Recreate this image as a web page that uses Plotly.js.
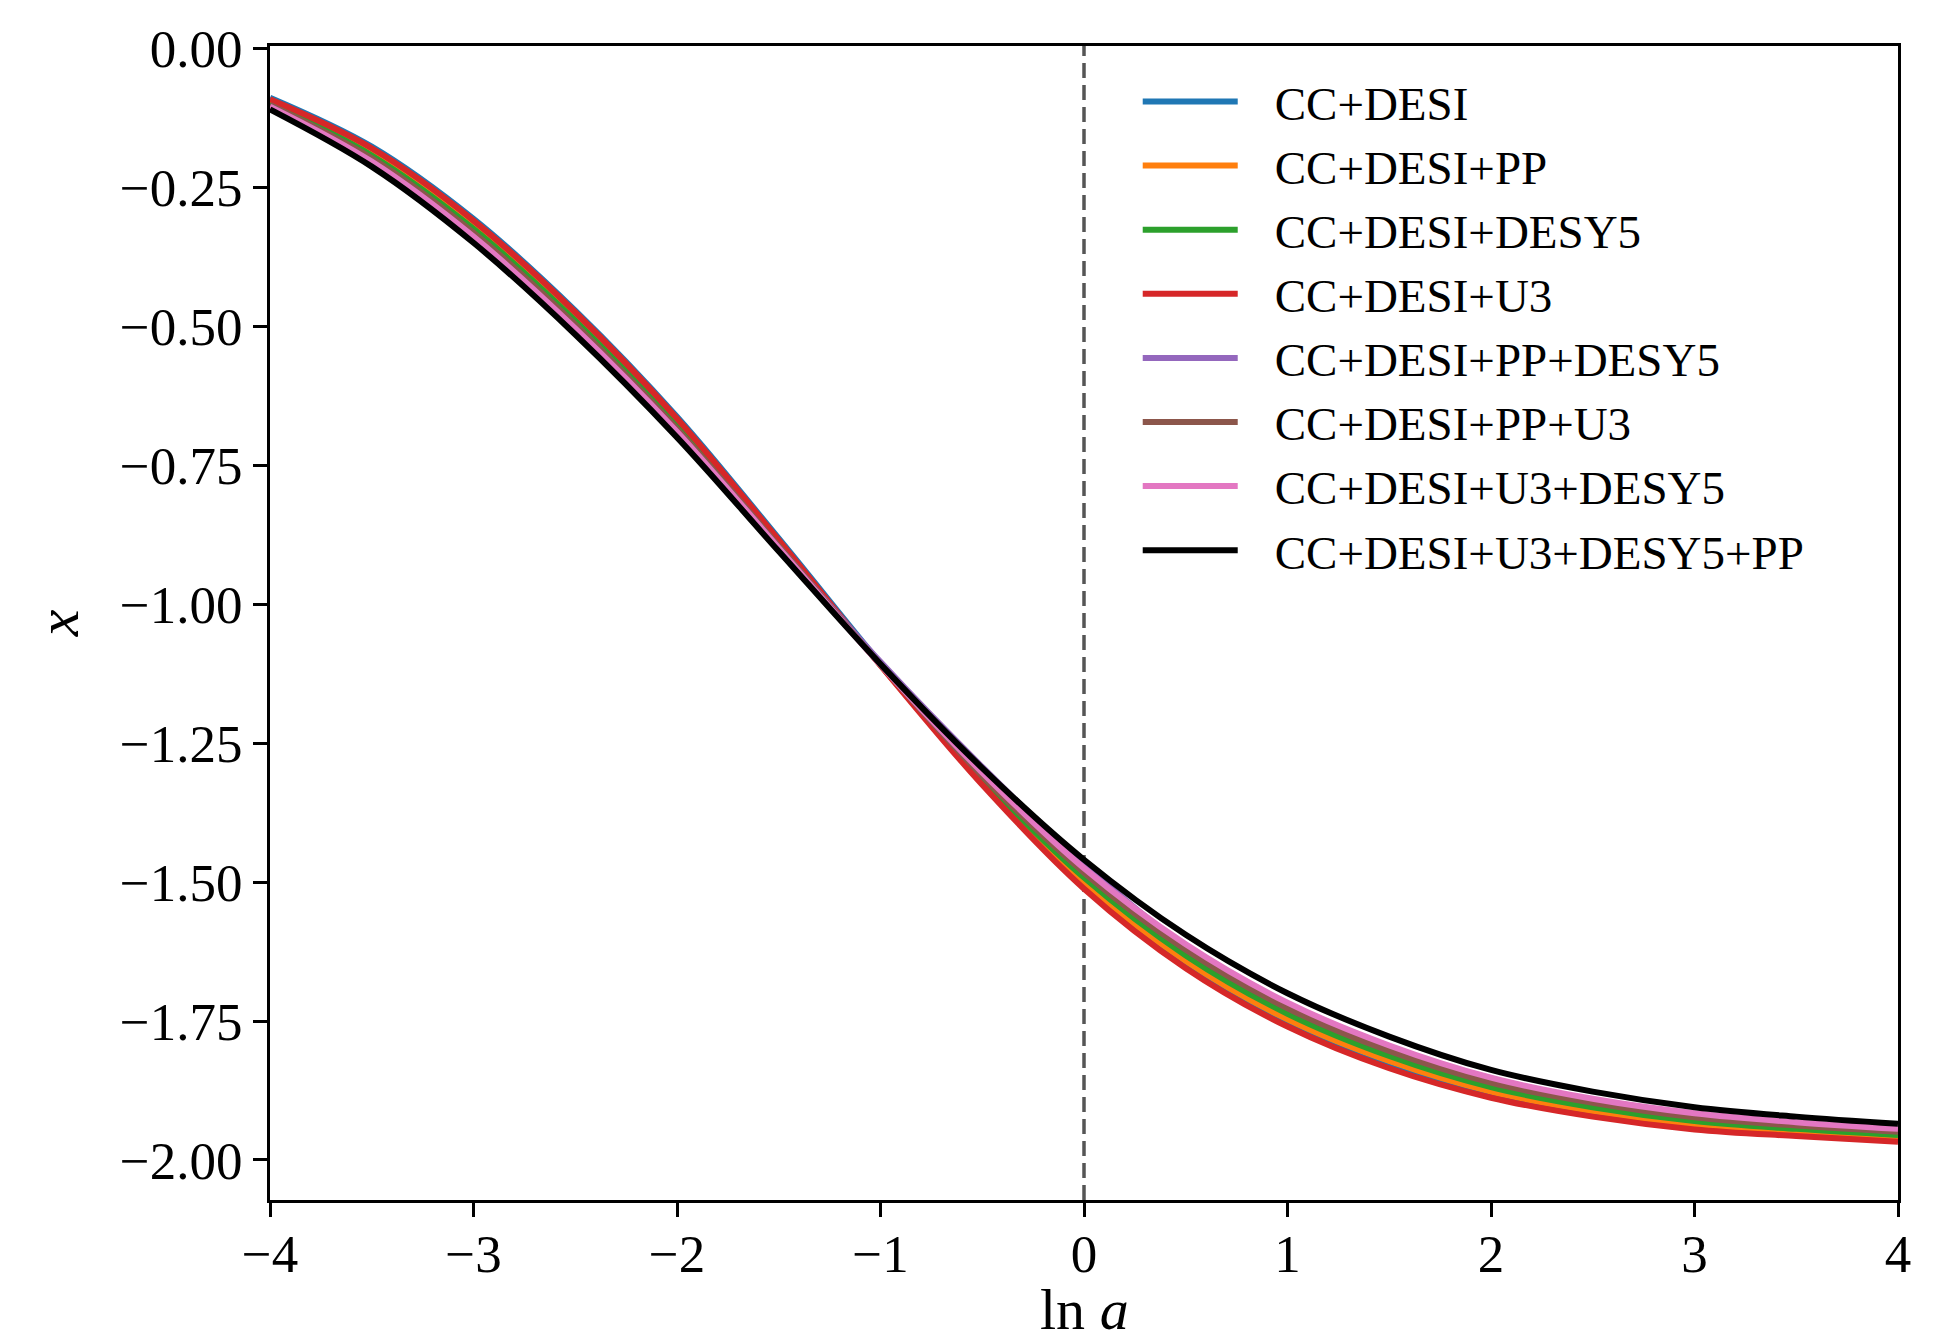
<!DOCTYPE html>
<html>
<head>
<meta charset="utf-8">
<script src="https://cdn.plot.ly/plotly-3.0.1.min.js"></script>
<style>
  html, body { margin: 0; padding: 0; background: #ffffff; }
  #chart { width: 1941px; height: 1342px; }
</style>
</head>
<body>
<div id="chart"></div>
<script>
// ln a sampling grid
const lnA = [-4, -3.5, -3, -2.5, -2, -1.5, -1, -0.5, 0, 0.5, 1, 1.5, 2, 2.5, 3, 3.5, 4];

// x(ln a) for each dataset combination
const xCC_DESI = [-0.089, -0.177, -0.307, -0.472, -0.663, -0.882, -1.107, -1.322, -1.509, -1.652, -1.757, -1.832, -1.885, -1.919, -1.942, -1.954, -1.964];
const xCC_DESI_PP = [-0.096, -0.187, -0.319, -0.484, -0.673, -0.889, -1.110, -1.318, -1.501, -1.642, -1.747, -1.822, -1.877, -1.912, -1.936, -1.949, -1.960];
const xCC_DESI_DESY5 = [-0.099, -0.193, -0.325, -0.490, -0.679, -0.893, -1.109, -1.314, -1.492, -1.632, -1.737, -1.813, -1.869, -1.905, -1.930, -1.944, -1.955];
const xCC_DESI_U3 = [-0.092, -0.180, -0.310, -0.475, -0.666, -0.885, -1.110, -1.325, -1.512, -1.655, -1.760, -1.835, -1.888, -1.922, -1.945, -1.957, -1.967];
const xCC_DESI_PP_DESY5 = [-0.103, -0.200, -0.334, -0.499, -0.687, -0.897, -1.104, -1.293, -1.468, -1.617, -1.724, -1.801, -1.858, -1.895, -1.921, -1.936, -1.948];
const xCC_DESI_PP_U3 = [-0.102, -0.198, -0.332, -0.497, -0.685, -0.896, -1.109, -1.309, -1.483, -1.622, -1.727, -1.804, -1.861, -1.897, -1.923, -1.938, -1.949];
const xCC_DESI_U3_DESY5 = [-0.105, -0.204, -0.339, -0.504, -0.690, -0.899, -1.109, -1.303, -1.475, -1.612, -1.717, -1.794, -1.852, -1.890, -1.916, -1.932, -1.944];
const xCC_DESI_U3_DESY5_PP = [-0.110, -0.213, -0.350, -0.515, -0.700, -0.905, -1.108, -1.295, -1.460, -1.595, -1.700, -1.778, -1.838, -1.877, -1.905, -1.922, -1.935];

const seriesNames = [
  'CC+DESI', 'CC+DESI+PP', 'CC+DESI+DESY5', 'CC+DESI+U3',
  'CC+DESI+PP+DESY5', 'CC+DESI+PP+U3', 'CC+DESI+U3+DESY5', 'CC+DESI+U3+DESY5+PP'
];
const seriesValues = [
  xCC_DESI, xCC_DESI_PP, xCC_DESI_DESY5, xCC_DESI_U3,
  xCC_DESI_PP_DESY5, xCC_DESI_PP_U3, xCC_DESI_U3_DESY5, xCC_DESI_U3_DESY5_PP
];
const seriesColors = ['#1f77b4', '#ff7f0e', '#2ca02c', '#d62728', '#9467bd', '#8c564b', '#e377c2', '#000000'];

// axis ticks
const xTicks = [-4, -3, -2, -1, 0, 1, 2, 3, 4];
const yTicks = [0, -0.25, -0.5, -0.75, -1, -1.25, -1.5, -1.75, -2];

const FONT = '"Liberation Serif", "DejaVu Serif", serif';

// legend handle geometry (px, inside each legend entry)
const HANDLE_LEN = 95;
const ITEM_WIDTH = 127;

const traces = seriesNames.map((name, i) => ({
  type: 'scatter',
  mode: 'lines',
  name: name,
  x: lnA,
  y: seriesValues[i],
  line: { color: seriesColors[i], width: 6, shape: 'spline', smoothing: 1 }
}));

const layout = {
  width: 1941,
  height: 1342,
  margin: { l: 270, r: 43, t: 46, b: 142 },
  paper_bgcolor: '#ffffff',
  plot_bgcolor: '#ffffff',
  font: { family: FONT, color: '#000000' },
  showlegend: true,
  legend: {
    x: 0.533, xanchor: 'left',
    y: 0.984, yanchor: 'top',
    bgcolor: 'rgba(0,0,0,0)',
    borderwidth: 0,
    font: { family: FONT, size: 47, color: '#000000' },
    itemwidth: ITEM_WIDTH,
    tracegroupgap: 0
  },
  xaxis: {
    range: [-4, 4],
    tickmode: 'array',
    tickvals: xTicks,
    ticks: 'outside', ticklen: 14, tickwidth: 3, tickcolor: '#000000',
    ticklabelstandoff: -9,
    showline: true, linewidth: 3, linecolor: '#000000', mirror: true,
    showgrid: false, zeroline: false,
    tickfont: { family: FONT, size: 53, color: '#000000' }
  },
  yaxis: {
    range: [-2.072, 0.004],
    tickmode: 'array',
    tickvals: yTicks,
    tickformat: '.2f',
    ticks: 'outside', ticklen: 14, tickwidth: 3, tickcolor: '#000000',
    showline: true, linewidth: 3, linecolor: '#000000', mirror: true,
    showgrid: false, zeroline: false,
    tickfont: { family: FONT, size: 53, color: '#000000' },
    title: { text: '<i>x</i>', font: { family: FONT, size: 60, color: '#000000' }, standoff: 22 }
  },
  // x-axis label, set close to the bottom edge of the figure
  annotations: [{
    text: 'ln <i>a</i>',
    xref: 'paper', yref: 'paper',
    x: 0.5, y: 0,
    xanchor: 'center', yanchor: 'top',
    yshift: -75,
    showarrow: false,
    font: { family: FONT, size: 58, color: '#000000' }
  }],
  shapes: [{
    type: 'line', xref: 'x', yref: 'paper',
    x0: 0, x1: 0, y0: 0, y1: 1,
    layer: 'below',
    line: { color: '#555555', width: 3.5, dash: '15px,7px' }
  }]
};

// lengthen the legend line handles
function stretchLegendHandles(gd) {
  gd.querySelectorAll('.legend .legendlines path').forEach(p => {
    p.setAttribute('d', 'M5,0h' + HANDLE_LEN);
  });
}

Plotly.newPlot('chart', traces, layout, { displayModeBar: false, staticPlot: true })
  .then(gd => {
    stretchLegendHandles(gd);
    gd.on('plotly_afterplot', () => stretchLegendHandles(gd));
  });
</script>
</body>
</html>
